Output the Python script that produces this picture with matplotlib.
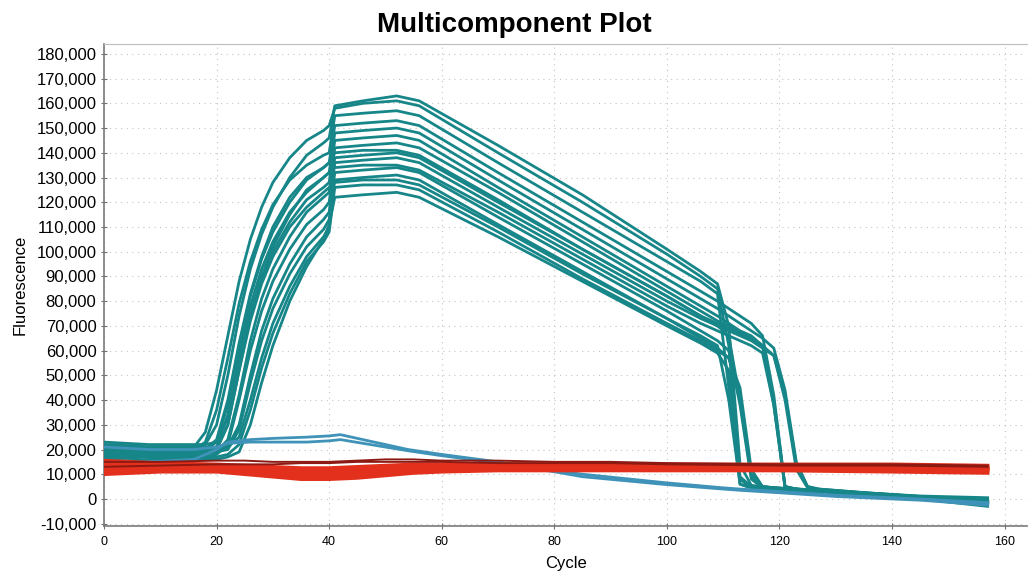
#!/usr/bin/env python3

import numpy as np
import matplotlib
matplotlib.use('Agg')
import matplotlib.pyplot as plt
from matplotlib.ticker import FuncFormatter, MultipleLocator

plt.rcParams['font.family'] = ['Liberation Sans', 'DejaVu Sans']

# amplification curves (fluorescence in thousands) on a shared cycle grid
cycles = [0, 8, 16, 18, 20, 22, 24, 26, 28, 30, 33, 36, 39, 40, 41, 46, 52, 56,
          70, 85, 100, 106, 109, 111, 113, 115, 117, 119, 121, 123, 125, 127, 135, 145, 157]

teal_runs = [
    [21, 20, 21, 27, 44, 66, 88, 105, 118, 128, 138, 145, 149, 151, 158, 160, 161, 159,
     140, 120, 99, 90, 85, 62, 9, 5, 4.5, 4.2, 4, 3.8, 3.6, 3.4, 2.2, 0.8, -0.8],
    [19, 19, 20, 23, 36, 57, 79, 96, 109, 119, 129, 135, 139, 140, 155, 156, 157, 155,
     136, 116, 96, 88, 83, 45, 6, 4.5, 4.2, 4, 3.8, 3.6, 3.4, 3.2, 2, 0.5, -1.5],
    [22, 21, 21, 22, 30, 50, 74, 93, 107, 118, 130, 139, 144, 146, 159, 161, 163, 161,
     143, 123, 101, 92, 87, 70, 14, 5.5, 5, 4.6, 4.3, 4, 3.8, 3.6, 2.5, 1.2, 0.5],
    [20, 20, 20, 20, 23, 38, 62, 82, 97, 108, 120, 129, 134, 136, 151, 152, 153, 151,
     132, 112, 92, 84, 80, 77, 74, 71, 66, 42, 5, 4, 3.6, 3.4, 2.4, 1, -0.5],
    [18, 19, 19, 19, 20, 30, 52, 74, 90, 102, 115, 125, 130, 132, 148, 149, 150, 148,
     129, 109, 89, 81, 77, 74, 71, 68, 65, 61, 44, 15, 5, 4, 2.6, 1, -1],
    [23, 22, 22, 22, 23, 33, 55, 75, 89, 100, 112, 121, 126, 128, 145, 146, 147, 145,
     126, 106, 86, 78, 74, 71, 68, 66, 62, 38, 4.5, 3.8, 3.5, 3.2, 2, 0.2, -2],
    [17, 18, 18, 18, 19, 24, 42, 64, 81, 93, 106, 116, 122, 124, 142, 143, 144, 142,
     124, 104, 84, 76, 72, 70, 67, 65, 62, 58, 40, 12, 4.5, 3.8, 2.4, 0.6, -2],
    [21, 20, 20, 20, 24, 40, 63, 83, 98, 110, 122, 130, 134, 136, 140, 141, 141, 139,
     121, 101, 82, 74, 70, 66, 40, 9, 5, 4.5, 4.2, 4, 3.8, 3.5, 2.3, 0.8, -1],
    [16, 17, 17, 17, 18, 22, 40, 60, 76, 88, 101, 111, 117, 120, 138, 139, 140, 138,
     120, 101, 82, 74, 71, 69, 67, 65, 62, 40, 5, 4, 3.5, 3.3, 2, 0.4, -1.5],
    [20, 20, 20, 20, 20, 21, 30, 50, 68, 81, 95, 106, 113, 116, 136, 137, 138, 136,
     118, 99, 80, 73, 70, 68, 66, 64, 61, 58, 42, 14, 5, 4, 2.5, 0.8, -1.2],
    [19, 19, 19, 19, 19, 20, 28, 47, 64, 77, 91, 102, 109, 113, 132, 133, 134, 132,
     114, 95, 76, 68, 64, 60, 38, 8, 4.6, 4.2, 4, 3.7, 3.5, 3.2, 1.8, 0, -2.5],
    [22, 21, 21, 21, 21, 21, 25, 40, 57, 71, 86, 98, 106, 110, 129, 130, 131, 129,
     111, 92, 73, 65, 61, 57, 42, 10, 5, 4.5, 4.2, 4, 3.7, 3.4, 2.2, 0.5, -1.8],
    [18, 18, 18, 18, 20, 30, 52, 72, 87, 98, 110, 118, 124, 126, 128, 129, 129, 127,
     110, 91, 73, 66, 62, 40, 6, 4.4, 4, 3.8, 3.6, 3.4, 3.2, 3, 1.8, 0.2, -2.2],
    [17, 17, 17, 17, 17, 18, 22, 36, 53, 67, 83, 96, 104, 108, 126, 127, 127, 125,
     108, 89, 71, 64, 60, 57, 45, 12, 5, 4.3, 4, 3.8, 3.6, 3.3, 2, 0.3, -2],
    [15, 16, 16, 16, 16, 17, 19, 30, 47, 62, 80, 94, 105, 111, 122, 123, 124, 122,
     106, 88, 70, 63, 59, 52, 8, 4.5, 4, 3.7, 3.5, 3.3, 3.1, 2.9, 1.6, 0, -3],
    [20, 19, 19, 19, 21, 34, 58, 78, 93, 104, 116, 124, 130, 132, 134, 135, 135, 133,
     116, 97, 78, 71, 68, 66, 64, 62, 59, 38, 5, 4, 3.6, 3.4, 2.2, 0.6, -1.4],
]

# two non-amplifying wells (lighter blue)
blue_cycles = [0, 8, 16, 20, 22, 26, 30, 36, 40, 42, 46, 54, 60, 70, 80, 85, 100,
               110, 113, 120, 130, 145, 157]
blue_runs = [
    [14, 15, 16, 20, 23, 24, 24.5, 25, 25.5, 26, 24, 20, 18, 15, 11.5, 10, 6.5,
     4.5, 4, 3, 1.5, 0, -1.5],
    [21, 20, 20, 21, 22.5, 23, 23, 23, 23.5, 24, 22.5, 19.5, 17.5, 14.5, 11, 9, 5.8,
     4, 3.5, 2.5, 1, -0.5, -2.5],
]

# passive reference dye (red), two darker traces
red_cycles = [0, 10, 20, 25, 30, 35, 40, 45, 50, 55, 60, 70, 80, 90, 100, 120, 140, 157]
red_runs = [
    [12, 12.5, 12.5, 12, 11, 10, 9.5, 10, 11, 11.5, 12, 12.5, 12.5, 12.5, 12.5, 12.5, 12.5, 12],
    [11, 11.5, 11.5, 11, 10, 9, 8.5, 9, 10, 11, 11.5, 12, 12, 12, 12, 12, 12, 11.5],
    [10, 11, 11, 10, 9, 8, 8, 8.5, 9.5, 10.5, 11, 11.5, 11.5, 11.5, 11.5, 11.5, 11, 10.5],
    [14, 14, 13.5, 13, 12.5, 12, 11.5, 12, 12.5, 13, 13, 13.5, 13.5, 13.5, 13.5, 13.5, 13, 12.5],
    [13, 13, 12.5, 12, 11.5, 11, 10.5, 11, 11.5, 12, 12.5, 13, 13, 13, 13, 13, 13, 12.5],
    [15.5, 14.5, 14, 13.5, 13, 12.5, 12.5, 13, 13.5, 14, 14, 14, 14, 14, 14, 14, 14, 13.5],
]
dark_red_runs = [
    [15, 15, 15.5, 15.5, 15, 15, 15, 15.5, 16, 16, 15.5, 15.5, 15, 15, 14.5, 14, 14, 13.5],
    [13, 13.5, 14, 14, 14, 14.5, 14.5, 15, 15, 15, 15, 14.5, 14.5, 14.5, 14, 13.5, 13.5, 13],
]

fig = plt.figure(figsize=(10.29, 5.78), dpi=100)
ax = fig.add_axes([0.1011, 0.0897, 0.897, 0.8342])

for run in teal_runs:
    ax.plot(cycles, np.array(run) * 1000, color='#178689', lw=2.0, zorder=3)
for run in blue_runs:
    ax.plot(blue_cycles, np.array(run) * 1000, color='#3f92b8', lw=2.0, zorder=3)
for run in red_runs:
    ax.plot(red_cycles, np.array(run) * 1000, color='#e2301c', lw=2.6, zorder=4)
for run in dark_red_runs:
    ax.plot(red_cycles, np.array(run) * 1000, color='#8c1a12', lw=1.4, zorder=4)

ax.set_xlim(0, 164)
ax.set_ylim(-11000, 184000)
ax.yaxis.set_major_locator(MultipleLocator(10000))
ax.yaxis.set_major_formatter(FuncFormatter(lambda v, p: '{:,.0f}'.format(v)))
ax.set_xticks([0, 20, 40, 60, 80, 100, 120, 140, 160])

ax.grid(True, color='#c4c4c4', linestyle=(0, (1, 4)), lw=0.8, zorder=0)
ax.tick_params(axis='y', direction='inout', length=5, labelsize=12, color='#707070', pad=3)
ax.tick_params(axis='x', direction='inout', length=4, labelsize=9, color='#707070', pad=5)
for s in ['left', 'bottom']:
    ax.spines[s].set_color('#7a7a7a')
    ax.spines[s].set_linewidth(1.2)
ax.spines['top'].set_color('#bdbdbd')
ax.spines['right'].set_visible(False)

ax.set_xlabel('Cycle', size=12, labelpad=6)
ax.set_ylabel('Fluorescence', size=12, labelpad=6)
fig.suptitle('Multicomponent Plot', fontsize=20, fontweight='bold', y=0.98)

fig.savefig('out.png', dpi=100)
